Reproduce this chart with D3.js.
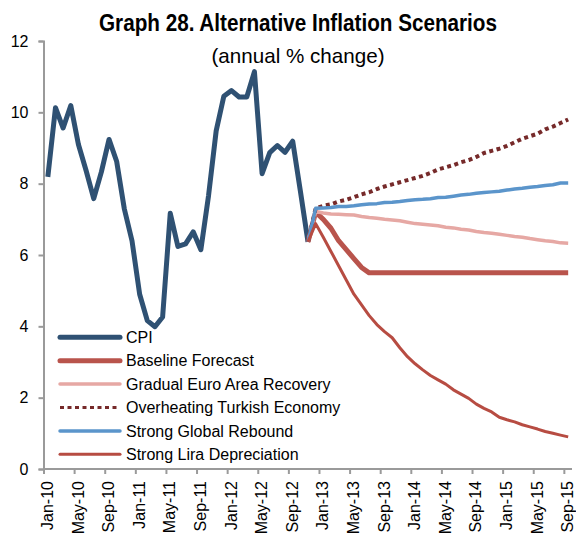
<!DOCTYPE html>
<html>
<head>
<meta charset="utf-8">
<script src="https://cdn.jsdelivr.net/npm/d3@7"></script>
<style>
  body { margin: 0; background: #fff; }
  svg { display: block; font-family: "Liberation Sans", Arial, sans-serif; }
</style>
</head>
<body>
<svg id="chart" width="576" height="539"></svg>
<script>
// months Jan-10 .. Sep-15
const months = d3.timeMonth.range(new Date(2010, 0, 1), new Date(2015, 9, 1));
const fmt = d3.timeFormat("%b-%y");
const tickLabels = ["Jan-10","May-10","Sep-10","Jan-11","May-11","Sep-11","Jan-12","May-12",
  "Sep-12","Jan-13","May-13","Sep-13","Jan-14","May-14","Sep-14","Jan-15","May-15","Sep-15"];
const yTicks = [0, 2, 4, 6, 8, 10, 12];

// actual CPI, Jan-10 .. Nov-12
const cpi = [8.19,10.13,9.56,10.19,9.10,8.37,7.58,8.33,9.24,8.62,7.29,6.40,
  4.90,4.16,3.99,4.26,7.17,6.24,6.31,6.65,6.15,7.66,9.48,10.45,
  10.61,10.43,10.43,11.14,8.28,8.87,9.07,8.88,9.19,7.80,6.37];

// scenarios, Nov-12 .. Sep-15
const forecastStart = "Nov-12";
const baseline = [6.37,7.20,7.00,6.75,6.40,6.15,5.90,5.65,5.50,5.50,5.50,5.50,5.50,5.50,5.50,5.50,5.50,5.50,
  5.50,5.50,5.50,5.50,5.50,5.50,5.50,5.50,5.50,5.50,5.50,5.50,5.50,5.50,5.50,5.50,5.50];
const euroRecovery = [6.37,7.22,7.18,7.15,7.14,7.13,7.12,7.08,7.05,7.03,7.00,6.98,6.96,6.92,6.88,6.86,6.84,6.82,
  6.78,6.76,6.72,6.70,6.66,6.63,6.61,6.58,6.55,6.52,6.50,6.46,6.43,6.40,6.38,6.34,6.33];
const overheating = [6.37,7.31,7.38,7.42,7.50,7.55,7.62,7.70,7.76,7.85,7.92,7.98,8.04,8.10,8.16,8.22,8.30,8.40,
  8.46,8.52,8.60,8.66,8.75,8.86,8.92,8.98,9.06,9.16,9.26,9.33,9.40,9.52,9.60,9.70,9.80];
const globalRebound = [6.37,7.31,7.32,7.33,7.36,7.36,7.38,7.41,7.43,7.44,7.47,7.48,7.50,7.53,7.55,7.56,7.58,7.61,
  7.62,7.65,7.68,7.70,7.73,7.75,7.77,7.79,7.82,7.85,7.87,7.90,7.92,7.95,7.97,8.02,8.02];
const liraDepreciation = [6.37,6.88,6.50,6.10,5.70,5.30,4.90,4.60,4.30,4.05,3.85,3.68,3.40,3.15,2.95,2.78,2.62,2.50,
  2.38,2.22,2.10,1.98,1.82,1.70,1.60,1.45,1.38,1.32,1.24,1.18,1.12,1.05,1.00,0.95,0.90];

const seriesNames = ["CPI","Baseline Forecast","Gradual Euro Area Recovery","Overheating Turkish Economy",
  "Strong Global Rebound","Strong Lira Depreciation"];
const seriesValues = [cpi, baseline, euroRecovery, overheating, globalRebound, liraDepreciation];
const seriesColors = ["#2f5173","#b9544c","#e6a8a4","#762a2a","#5b95cb","#b74c42"];
const seriesWidths = [5, 5, 3.5, 4, 3.5, 3];
const seriesDash = [null, null, null, "4,3.5", null, null];

const svg = d3.select("#chart");
const labels = months.map(fmt);
const x = d3.scaleBand().domain(labels).range([44, 572]);
const y = d3.scaleLinear().domain([0, 12]).range([469, 41]);
const cx = l => x(l) + x.bandwidth() / 2;

// title
svg.append("text").attr("x", 298).attr("y", 31).attr("text-anchor", "middle")
  .attr("font-size", 23).attr("font-weight", "bold")
  .attr("textLength", 398).attr("lengthAdjust", "spacingAndGlyphs")
  .text("Graph 28. Alternative Inflation Scenarios");
svg.append("text").attr("x", 298).attr("y", 63).attr("text-anchor", "middle")
  .attr("font-size", 21).attr("textLength", 173).attr("lengthAdjust", "spacingAndGlyphs")
  .text("(annual % change)");

// y axis
const yAxis = svg.append("g").attr("transform", "translate(43.5,0)")
  .call(d3.axisLeft(y).tickValues(yTicks).tickSize(5).tickPadding(10));
yAxis.selectAll("text").attr("font-size", 16).attr("fill", "#000")
  .attr("font-family", "Liberation Sans, Arial, sans-serif");

// x axis, ticks on category boundaries
const xAxis = svg.append("g").attr("transform", "translate(0,469)");
xAxis.append("line").attr("x1", 44).attr("x2", 572).attr("y1", 0).attr("y2", 0);
xAxis.selectAll("line.tick").data(tickLabels).join("line").attr("class", "tick")
  .attr("x1", d => x(d)).attr("x2", d => x(d)).attr("y1", 0).attr("y2", 5);
xAxis.selectAll("text").data(tickLabels).join("text")
  .attr("transform", d => `translate(${cx(d) - 0.5},12) rotate(-90)`)
  .attr("text-anchor", "end").attr("dy", "0.35em")
  .attr("font-size", 16).text(d => d);
svg.selectAll(".domain, line").attr("stroke", "#9a9a9a").attr("stroke-width", 2);

// series
const startIdx = labels.indexOf(forecastStart);
seriesValues.forEach((vals, i) => {
  const offset = i === 0 ? 0 : startIdx;
  const line = d3.line().x((d, j) => cx(labels[j + offset])).y(d => y(d));
  svg.append("path").datum(vals)
    .attr("d", line).attr("fill", "none")
    .attr("stroke", seriesColors[i]).attr("stroke-width", seriesWidths[i])
    .attr("stroke-linejoin", "round")
    .attr("stroke-dasharray", seriesDash[i]);
});

// legend
const legend = svg.append("g").selectAll("g").data(seriesNames).join("g")
  .attr("transform", (d, i) => `translate(0,${337.3 + i * 23.4})`);
legend.append("line").attr("x1", 60).attr("x2", 120)
  .attr("stroke", (d, i) => seriesColors[i])
  .attr("stroke-width", (d, i) => seriesWidths[i] === 4 ? 3 : seriesWidths[i])
  .attr("stroke-linecap", (d, i) => seriesDash[i] ? "butt" : "round")
  .attr("stroke-dasharray", (d, i) => seriesDash[i]);
legend.append("text").attr("x", 126).attr("dy", "0.35em")
  .attr("font-size", 16).text(d => d);
</script>
</body>
</html>
